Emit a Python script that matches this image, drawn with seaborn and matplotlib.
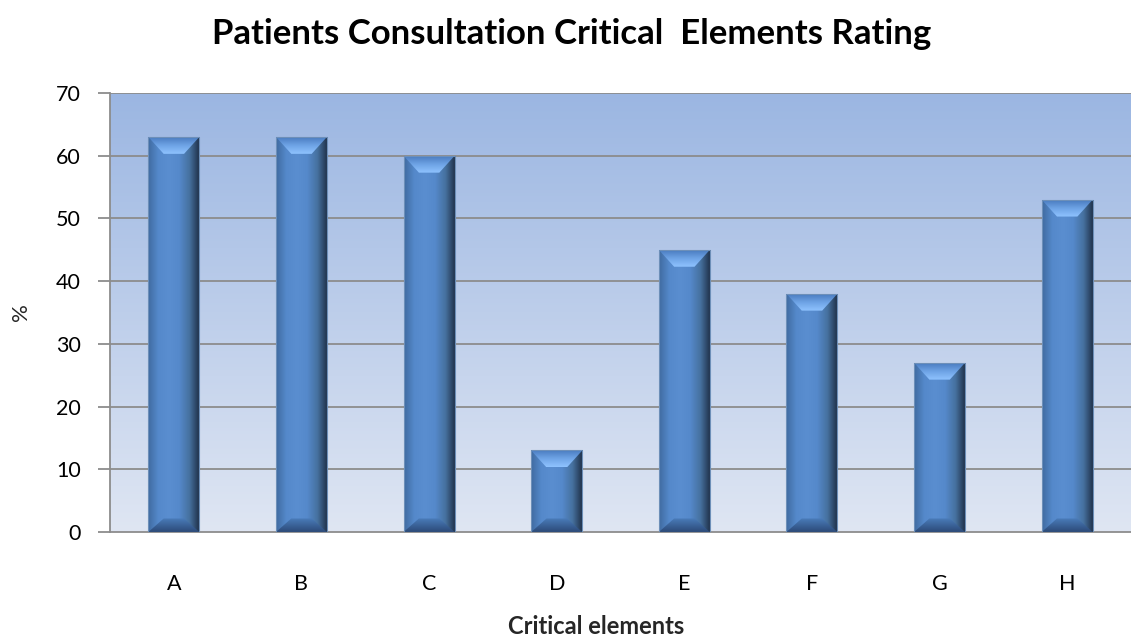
import numpy as np
import matplotlib
matplotlib.use("Agg")
import matplotlib.pyplot as plt
import seaborn as sns
from matplotlib.patches import Polygon
from matplotlib.colors import LinearSegmentedColormap

# Chart data
elements = ["A", "B", "C", "D", "E", "F", "G", "H"]
ratings = [63, 63, 60, 13, 45, 38, 27, 53]
y_ticks = [0, 10, 20, 30, 40, 50, 60, 70]

title = "Patients Consultation Critical  Elements Rating"
x_label = "Critical elements"
y_label = "%"

sns.set_style("white")
plt.rcParams["font.family"] = ["Lato", "DejaVu Sans"]
plt.rcParams["text.color"] = "black"

fig = plt.figure(figsize=(11.31, 6.39), dpi=100)
ax = fig.add_axes([0.0973, 0.1674, 0.9027, 0.6871])

# Bars through seaborn
sns.barplot(x=elements, y=ratings, color="#5287c9", width=0.4, ax=ax,
            edgecolor="none", zorder=3)

ax.set_ylim(0, 70)
ax.set_xlim(-0.5, len(elements) - 0.5)

# Gradient plot background
bg = LinearSegmentedColormap.from_list("bg", ["#dfe6f3", "#9bb6e2"])
grad = np.linspace(0, 1, 256).reshape(-1, 1)
ax.imshow(grad, cmap=bg, aspect="auto", origin="lower",
          extent=[0, 1, 0, 1], transform=ax.transAxes, zorder=0)

# Bevelled look on each bar
side = LinearSegmentedColormap.from_list(
    "side", ["#3f6aa0", "#5589cb", "#5a8ed0", "#5589cb", "#46719f", "#1d2d44"])
top_cm = LinearSegmentedColormap.from_list("top", ["#8fc3ff", "#6fa4e6", "#4a7cc0"])
bot_cm = LinearSegmentedColormap.from_list("bot", ["#2c4a78", "#4a7cba"])
hgrad = np.linspace(0, 1, 256).reshape(1, -1)
vgrad = np.linspace(0, 1, 64).reshape(-1, 1)
for p in list(ax.patches):
    x0, w, h = p.get_x(), p.get_width(), p.get_height()
    im = ax.imshow(hgrad, cmap=side, aspect="auto", extent=[x0, x0 + w, 0, h], zorder=4)
    im.set_clip_path(p)
    d = 2.7
    ins = w * 0.3
    top = Polygon([(x0, h), (x0 + w, h), (x0 + w - ins, h - d), (x0 + ins, h - d)],
                  closed=True, facecolor="none", edgecolor="none", zorder=5)
    ax.add_patch(top)
    imt = ax.imshow(vgrad, cmap=top_cm, aspect="auto", origin="lower",
                    extent=[x0, x0 + w, h - d, h], zorder=5)
    imt.set_clip_path(top)
    bot = Polygon([(x0, 0), (x0 + w, 0), (x0 + w - ins, d * 0.8), (x0 + ins, d * 0.8)],
                  closed=True, facecolor="none", edgecolor="none", zorder=5)
    ax.add_patch(bot)
    imb = ax.imshow(vgrad, cmap=bot_cm, aspect="auto", origin="lower",
                    extent=[x0, x0 + w, 0, d * 0.8], zorder=5)
    imb.set_clip_path(bot)
    ax.add_patch(Polygon([(x0, 0), (x0, h), (x0 + w, h), (x0 + w, 0)], closed=True,
                         facecolor="none", edgecolor="#6d8fb8", lw=0.8, zorder=6))

ax.set_xlim(-0.5, len(elements) - 0.5)
ax.set_ylim(0, 70)

# Grid and axes
ax.set_yticks(y_ticks)
for t in y_ticks[1:]:
    ax.axhline(t, color="#8c8c8c", lw=1.3, zorder=2)
for s in ["top", "right"]:
    ax.spines[s].set_visible(False)
ax.spines["left"].set_color("#8c8c8c")
ax.spines["bottom"].set_color("#8c8c8c")
ax.spines["left"].set_linewidth(1.3)
ax.spines["bottom"].set_linewidth(1.3)
ax.tick_params(axis="y", direction="out", length=9, width=1.3, color="#8c8c8c",
               labelsize=15.5, pad=12, left=True, labelcolor="black")
ax.tick_params(axis="x", length=0, labelsize=15.5, pad=30, labelcolor="black")

ax.set_xlabel(x_label, fontsize=17, fontweight="bold")
ax.xaxis.set_label_coords(0.4765, -0.19)
ax.set_ylabel(y_label, fontsize=16, labelpad=18)
fig.suptitle(title, fontsize=25, fontweight="bold", x=0.505, y=0.972)

fig.savefig("out.png", dpi=100)
